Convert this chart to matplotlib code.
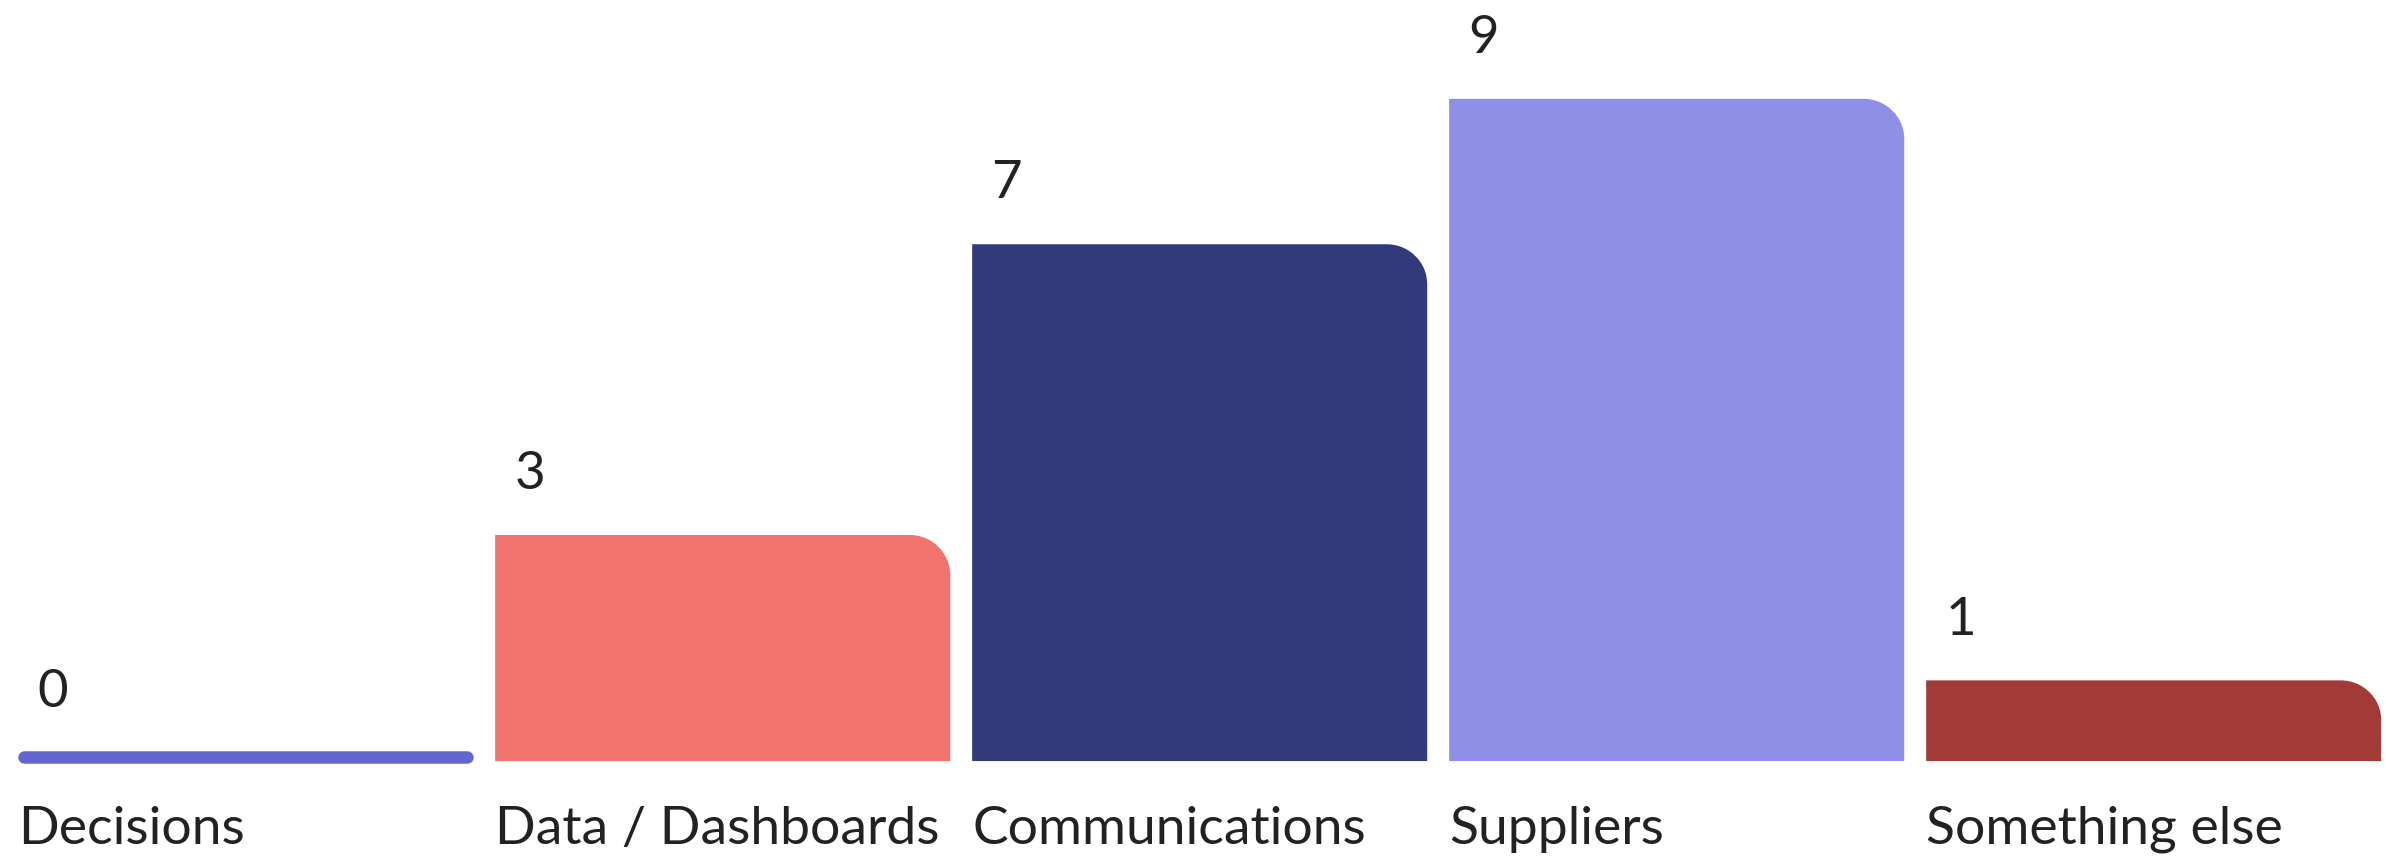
import matplotlib.pyplot as plt
from matplotlib.path import Path
from matplotlib.patches import PathPatch

categories = ['Decisions', 'Data / Dashboards', 'Communications', 'Suppliers', 'Something else']
counts = [0, 3, 7, 9, 1]
colors = ['#6466CF', '#F0736D', '#323B7A', '#8F8FE8', '#A23B38']

plt.rcParams['font.family'] = ['Lato', 'DejaVu Sans']

fig = plt.figure(figsize=(23.86, 8.57), dpi=100)
ax = fig.add_axes([0, 0, 1, 1])
ax.set_xlim(-0.515, 4.487)
ax.set_ylim(-1.43, 10.36)
ax.axis('off')

width = 0.954
base = -0.11
rx, ry = 0.085, 0.55  # top-right corner radius (~40px both ways)
k = 0.5523


def rounded_bar(x, top, color):
    left, right = x - width / 2, x + width / 2
    verts = [(left, base), (right, base), (right, top - ry),
             (right, top - ry + k * ry), (right - rx + k * rx, top), (right - rx, top),
             (left, top), (left, base)]
    codes = [Path.MOVETO, Path.LINETO, Path.LINETO,
             Path.CURVE4, Path.CURVE4, Path.CURVE4,
             Path.LINETO, Path.CLOSEPOLY]
    ax.add_patch(PathPatch(Path(verts, codes), facecolor=color, edgecolor='none'))


for i, (cat, val, col) in enumerate(zip(categories, counts, colors)):
    left = i - width / 2
    if val == 0:
        d = 0.013
        ax.plot([left + d, i + width / 2 - d], [-0.055, -0.055], color=col,
                lw=9, solid_capstyle='round')
    else:
        rounded_bar(i, val, col)
    ax.text(left + 0.04, val + 0.83, str(val), ha='left', va='center',
            fontsize=38, color='#222222')
    ax.text(left, -1.05, cat, ha='left', va='center', fontsize=38.5, color='#222222')

fig.savefig('out.png', dpi=100, facecolor='white')
